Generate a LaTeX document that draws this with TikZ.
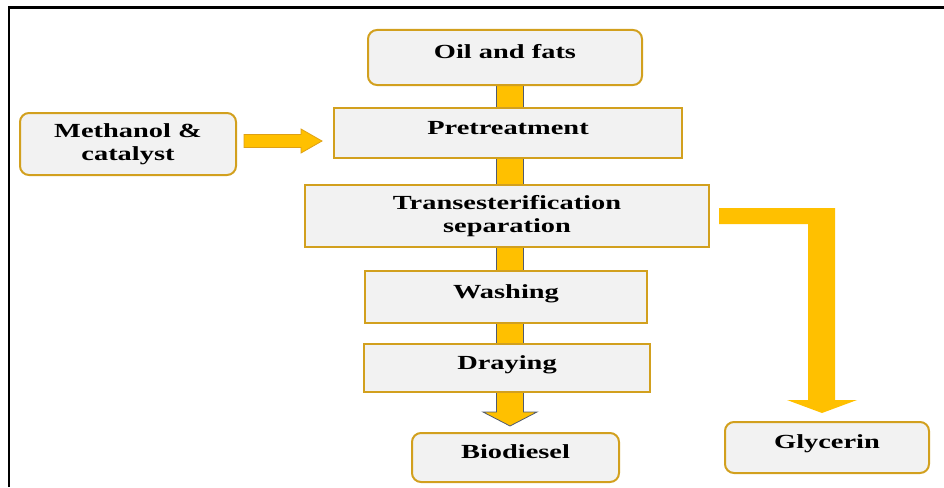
\documentclass[tikz,border=0pt]{standalone}
\usepackage{fontspec}
\setmainfont{Liberation Serif}[FakeStretch=1.42]
\usetikzlibrary{backgrounds,calc}
\definecolor{boxline}{RGB}{210,160,30}
\definecolor{boxfill}{RGB}{242,242,242}
\definecolor{arrowfill}{RGB}{255,192,0}
\definecolor{shaftedge}{RGB}{80,90,110}
\definecolor{arrowedge}{RGB}{222,160,20}
\begin{document}
\begin{tikzpicture}[x=1pt,y=-1pt,
  box/.style={draw=boxline, fill=boxfill, line width=2pt, align=center,
    font=\fontsize{20}{23.5}\selectfont\bfseries, inner sep=0pt},
  rbox/.style={box, rounded corners=9pt},
  oneline/.style={text height=12pt, text depth=10pt},
  yarrow/.style={fill=arrowfill, line width=0.8pt, line join=miter}]
\useasboundingbox (0,0) rectangle (944,487);
% frame
\draw[line width=2.8pt] (9,487) -- (9,7.5) -- (944,7.5);
% nodes
\node[rbox,oneline,minimum width=274pt,minimum height=55pt] (oil) at (505,57.5) {Oil and fats};
\node[box,oneline,minimum width=348pt,minimum height=50pt] (pre) at (508,133) {Pretreatment};
\node[box,minimum width=404pt,minimum height=62pt] (trans) at (507,216) {Transesterification\\separation};
\node[box,oneline,minimum width=282pt,minimum height=52pt] (wash) at (506,297) {Washing};
\node[box,oneline,minimum width=286pt,minimum height=48pt] (dry) at (507,368) {Draying};
\node[rbox,oneline,minimum width=207pt,minimum height=49pt] (bio) at (515.5,457.5) {Biodiesel};
\node[rbox,oneline,minimum width=204pt,minimum height=51pt] (gly) at (827,447.5) {Glycerin};
\node[rbox,minimum width=216pt,minimum height=62pt] (meth) at (128,144) {Methanol \&\\catalyst};
% main vertical arrow (behind boxes)
\begin{pgfonlayer}{background}
\coordinate (sx) at (510,0);
\coordinate (st) at (oil.south -| sx);
\coordinate (tip) at ($(bio.north -| sx)+(0,-6)$);
\draw[yarrow, draw=shaftedge]
  ($(st)+(-13.5,0)$) -- ($(tip)+(-13.5,-14)$) -- ($(tip)+(-27,-14)$) -- (tip)
  -- ($(tip)+(27,-14)$) -- ($(tip)+(13.5,-14)$) -- ($(st)+(13.5,0)$);
\end{pgfonlayer}
% glycerin arrow
\coordinate (g0) at ($(trans.east)+(9,0)$);
\coordinate (gtip) at ($(gly.north)+(-5,-8)$);
\fill[arrowfill] ($(g0)+(0,-8)$) -- ($(gtip |- g0)+(13,-8)$) -- ($(gtip)+(13,-13)$)
  -- ($(gtip)+(35,-13)$) -- (gtip) -- ($(gtip)+(-35,-13)$) -- ($(gtip)+(-14,-13)$)
  -- ($(gtip |- g0)+(-14,8)$) -- ($(g0)+(0,8)$) -- cycle;
% methanol arrow
\coordinate (m0) at ($(meth.east)+(7,-3)$);
\coordinate (mt) at ($(pre.west)+(-11,8)$);
\draw[yarrow, draw=arrowedge] ($(m0)+(0,-6.5)$) -- ($(mt)+(-21,-6.5)$) -- ($(mt)+(-21,-12)$)
  -- (mt) -- ($(mt)+(-21,12)$) -- ($(mt)+(-21,6.5)$) -- ($(m0)+(0,6.5)$) -- cycle;
\end{tikzpicture}
\end{document}
